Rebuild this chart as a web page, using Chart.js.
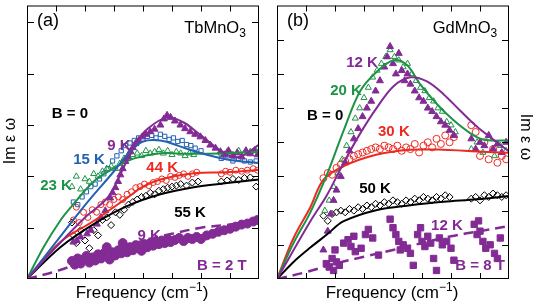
<!DOCTYPE html>
<html>
<head>
<meta charset="utf-8">
<script src="https://cdn.jsdelivr.net/npm/chart.js@4.4.0/dist/chart.umd.min.js"></script>
<style>
  body { margin: 0; background: #fff; }
  #wrap { position: relative; width: 537px; height: 308px; }
  canvas { position: absolute; top: 0; }
</style>
</head>
<body>
<div id="wrap">
  <canvas id="chartA" width="268" height="308" style="left:0"></canvas>
  <canvas id="chartB" width="269" height="308" style="left:268px"></canvas>
</div>
<script>
// tick positions (no tick labels on this figure)
const xTicks = [1, 2, 3, 4, 5, 6, 7];
const aYTicks = [1, 2, 3, 4, 5];
const bYTicks = [1, 2, 3, 4, 5, 6, 7];

// ---- panel (a) TbMnO3 ----
const aFit9K = [[0,0],[1,0.62],[2,1.2],[2.8,1.6],[3.4,2.25],[3.8,2.68],[4.14,2.92],[4.83,3.15],[5.4,3.05],[5.97,2.81],[6.9,2.42],[7.34,2.38],[8,2.62]];
const aFit15K = [[0,0],[1,0.72],[2,1.44],[3,2.1],[3.5,2.45],[4,2.68],[4.6,2.7],[5.2,2.6],[5.9,2.47],[6.9,2.33],[8,2.26]];
const aFit23K = [[0,0],[0.57,0.62],[1.15,1.14],[1.5,1.39],[2.3,1.9],[3.0,2.16],[3.7,2.35],[4.6,2.45],[5.5,2.44],[6.9,2.45],[8,2.48]];
const aFit44K = [[0,0],[1.15,0.72],[2.3,1.13],[3.45,1.58],[4.0,1.8],[4.6,1.94],[5.75,2.06],[6.9,2.08],[8,2.13]];
const aFit55K = [[0,0],[1.15,0.62],[2.3,1.07],[3.45,1.42],[4.6,1.65],[5.75,1.79],[6.9,1.87],[8,1.94]];
const aFit9K2T = [[0,0],[1,0.15],[2,0.35],[3,0.55],[4,0.75],[5,0.88],[6,1.0],[7,1.06],[8,1.15]];

const a9K = [[1.6,0.72],[1.72,0.75],[1.85,0.82],[2.07,0.88],[2.2,0.95],[2.41,1.07],[2.55,1.2],[2.7,1.33],[2.87,1.58],[2.95,1.68],[3.05,1.78],[3.14,1.9],[3.22,2.03],[3.3,2.15],[3.39,2.29],[3.48,2.38],[3.56,2.48],[3.65,2.56],[3.74,2.64],[3.85,2.7],[3.97,2.77],[4.1,2.82],[4.25,2.87],[4.4,2.92],[4.6,3.0],[4.72,3.12],[4.83,3.19],[4.95,3.15],[5.1,3.08],[5.29,3.0],[5.45,2.93],[5.63,2.87],[5.8,2.82],[5.98,2.77],[6.15,2.7],[6.32,2.61],[6.5,2.55],[6.67,2.48],[6.8,2.42],[6.95,2.5],[7.1,2.4],[7.25,2.46],[7.4,2.38],[7.55,2.5],[7.7,2.44],[7.85,2.5],[7.95,2.42]];
const a15K = [[1.6,1.5],[1.75,1.45],[1.9,1.6],[2.05,1.7],[2.2,1.8],[2.35,1.85],[2.5,1.95],[2.65,2.05],[2.8,2.15],[2.95,2.3],[3.1,2.4],[3.25,2.5],[3.4,2.6],[3.55,2.65],[3.7,2.7],[3.85,2.75],[4.0,2.72],[4.15,2.78],[4.3,2.8],[4.45,2.75],[4.6,2.82],[4.75,2.78],[4.9,2.72],[5.05,2.75],[5.2,2.68],[5.35,2.7],[5.5,2.62],[5.65,2.6],[5.8,2.55],[6.0,2.5],[6.7,2.35],[6.9,2.4],[7.1,2.3],[7.3,2.35],[7.5,2.3],[7.7,2.28],[7.9,2.3]];
const a23K = [[1.55,1.8],[1.7,2.0],[1.85,1.75],[2.0,1.95],[2.15,1.9],[2.3,2.05],[2.45,2.0],[2.6,2.1],[2.75,2.15],[2.9,2.2],[3.05,2.15],[3.2,2.25],[3.35,2.35],[3.5,2.38],[3.65,2.42],[3.8,2.45],[3.95,2.4],[4.1,2.5],[4.25,2.45],[4.4,2.48],[4.55,2.52],[4.7,2.45],[4.85,2.5],[5.0,2.42],[5.15,2.48],[5.3,2.45],[5.45,2.4],[5.6,2.45],[5.75,2.42],[6.7,2.45],[6.9,2.48],[7.1,2.42],[7.3,2.5],[7.5,2.45],[7.7,2.48],[7.9,2.5]];
const a44K = [[1.6,1.15],[1.7,1.4],[1.8,1.1],[1.95,1.3],[2.1,1.2],[2.25,1.35],[2.4,1.3],[2.55,1.45],[2.7,1.5],[2.85,1.45],[3.0,1.55],[3.15,1.6],[3.3,1.55],[3.45,1.65],[3.6,1.7],[3.75,1.78],[3.9,1.8],[4.05,1.85],[4.2,1.82],[4.35,1.88],[4.5,1.9],[4.65,1.95],[4.8,1.92],[4.95,2.0],[5.1,1.98],[5.25,2.02],[5.4,2.05],[5.55,2.0],[5.7,2.05],[5.85,2.08],[6.7,2.05],[6.85,2.1],[7.0,2.08],[7.2,2.12],[7.4,2.1],[7.6,2.12],[7.8,2.15],[7.95,2.12]];
const a55K = [[1.55,1.1],[1.6,0.85],[1.7,0.7],[1.85,0.95],[2.0,0.75],[2.15,0.6],[2.3,0.95],[2.45,0.85],[2.6,1.15],[2.75,1.2],[2.9,1.05],[3.05,1.3],[3.2,1.25],[3.35,1.35],[3.5,1.45],[3.65,1.5],[3.8,1.55],[3.95,1.6],[4.1,1.62],[4.25,1.68],[4.4,1.65],[4.55,1.72],[4.7,1.75],[4.85,1.78],[5.0,1.8],[5.15,1.82],[5.3,1.85],[5.5,1.82],[5.7,1.88],[5.9,1.9],[6.7,1.9],[6.9,1.92],[7.1,1.95],[7.3,1.93],[7.5,1.97],[7.7,1.98],[7.9,1.8]];
const a9K2T = [[1.55,0.35],[1.65,0.28],[1.75,0.4],[1.85,0.3],[1.95,0.38],[2.05,0.45],[2.15,0.32],[2.25,0.42],[2.35,0.36],[2.45,0.48],[2.55,0.4],[2.65,0.5],[2.75,0.62],[2.85,0.38],[2.95,0.52],[3.05,0.46],[3.15,0.56],[3.25,0.5],[3.3,0.7],[3.35,0.6],[3.45,0.52],[3.55,0.62],[3.65,0.56],[3.75,0.66],[3.85,0.6],[3.95,0.55],[4.05,0.68],[4.15,0.62],[4.25,0.7],[4.35,0.65],[4.45,0.72],[4.55,0.68],[4.65,0.75],[4.75,0.7],[4.85,0.78],[4.95,0.72],[5.1,0.76],[5.25,0.8],[5.4,0.74],[5.55,0.8],[5.7,0.78],[5.85,0.82],[6.0,0.78],[6.2,0.85],[6.4,0.88],[6.6,0.92],[6.8,0.95],[7.0,0.98],[7.2,1.02],[7.4,1.06],[7.6,1.08],[7.8,1.12],[7.95,1.15]];

// ---- panel (b) GdMnO3 ----
const bFit12K = [[0,0],[1.15,1.69],[1.72,2.45],[2.3,3.4],[2.87,4.26],[3.45,5.02],[4.02,5.64],[4.6,5.9],[5.17,5.78],[5.75,5.4],[6.32,4.92],[6.9,4.45],[7.47,4.07],[8,3.73]];
const bFit20K = [[0,0],[0.57,1.05],[1.15,1.95],[1.72,3.05],[2.3,4.35],[2.87,5.5],[3.45,6.07],[4.02,6.4],[4.48,6.26],[4.94,5.69],[5.52,5.11],[6.09,4.64],[6.67,4.26],[7.13,4.07],[8,4.05]];
const bFit30K = [[0,0],[0.57,1.2],[1.15,2.1],[1.6,2.9],[2.3,3.3],[3.45,3.64],[4.6,3.78],[5.75,3.78],[6.9,3.73],[8,3.69]];
const bFit50K = [[0,0],[0.57,0.5],[1.15,0.92],[1.72,1.3],[2.3,1.69],[3.45,2.02],[4.6,2.16],[5.75,2.26],[6.9,2.33],[8,2.43]];
const bFit12K8T = [[0,0],[1,0.2],[2,0.45],[3,0.65],[4,0.85],[5,1.05],[6,1.25],[7,1.4],[8,1.55]];

const b12K = [[1.6,0.85],[1.75,1.4],[1.85,1.9],[1.95,2.3],[2.05,2.6],[2.2,3.0],[2.35,3.4],[2.5,3.75],[2.65,4.1],[2.8,4.4],[2.95,4.75],[3.1,5.0],[3.25,5.2],[3.4,5.5],[3.55,5.8],[3.7,6.2],[3.8,6.5],[3.9,6.8],[4.0,6.3],[4.1,6.0],[4.2,6.6],[4.3,6.1],[4.4,5.8],[4.5,6.0],[4.6,5.7],[4.75,5.5],[4.9,5.3],[5.05,5.2],[5.2,5.0],[5.35,4.9],[5.5,4.75],[5.65,4.6],[5.8,4.5],[5.95,4.35],[6.1,4.2],[6.7,4.1],[6.85,3.8],[7.0,4.0],[7.15,3.9],[7.3,4.2],[7.45,3.8],[7.6,3.95],[7.75,3.7],[7.9,4.0]];
const b20K = [[1.65,2.0],[1.8,2.3],[1.95,2.7],[2.1,3.1],[2.25,3.5],[2.4,3.9],[2.55,4.3],[2.7,4.7],[2.85,5.0],[3.0,5.3],[3.15,5.6],[3.3,5.9],[3.45,6.1],[3.6,6.3],[3.75,6.5],[3.9,6.7],[4.05,6.5],[4.2,6.4],[4.35,6.2],[4.5,6.3],[4.65,6.0],[4.8,5.8],[4.95,5.6],[5.1,5.5],[5.25,5.3],[5.4,5.2],[5.55,5.0],[5.7,4.9],[5.85,4.6],[6.0,4.5],[6.15,4.3],[6.7,3.8],[6.9,4.0],[7.1,3.7],[7.3,4.1],[7.5,3.6],[7.7,3.9],[7.9,3.75]];
const b30K = [[1.6,2.95],[1.75,3.1],[1.9,3.05],[2.05,3.25],[2.2,3.35],[2.35,3.45],[2.5,3.5],[2.65,3.6],[2.8,3.65],[2.95,3.7],[3.1,3.75],[3.25,3.8],[3.4,3.85],[3.55,3.8],[3.7,3.9],[3.85,3.85],[4.0,3.8],[4.15,3.9],[4.3,3.75],[4.45,3.85],[4.6,3.8],[4.75,3.95],[4.9,3.7],[5.05,3.9],[5.2,4.0],[5.35,3.85],[5.5,4.1],[5.65,3.95],[5.8,4.2],[5.95,4.0],[6.1,4.15],[6.7,4.5],[6.85,4.3],[7.0,3.6],[7.15,4.0],[7.3,3.5],[7.45,3.8],[7.6,3.4],[7.75,3.6],[7.9,3.5]];
const b50K = [[1.6,1.85],[1.75,1.7],[1.9,1.9],[2.05,1.95],[2.2,2.0],[2.35,1.95],[2.5,2.05],[2.65,2.0],[2.8,2.1],[2.95,2.05],[3.1,2.15],[3.25,2.1],[3.4,2.2],[3.55,2.15],[3.7,2.25],[3.85,2.2],[4.0,2.3],[4.15,2.25],[4.3,2.2],[4.45,2.3],[4.6,2.25],[4.75,2.35],[4.9,2.3],[5.05,2.4],[5.2,2.35],[5.35,2.3],[5.5,2.4],[5.65,2.35],[5.8,2.45],[5.95,2.4],[6.7,2.35],[6.85,2.4],[7.0,2.3],[7.15,2.45],[7.3,2.4],[7.45,2.5],[7.6,2.45],[7.75,2.4],[7.9,2.45]];
const b12K8T = [[1.7,0.45],[1.8,0.35],[1.9,0.6],[1.95,0.25],[2.05,0.5],[2.0,0.85],[2.15,0.4],[2.3,1.05],[2.45,1.15],[2.55,0.95],[2.7,0.8],[2.65,1.25],[2.9,0.9],[3.05,1.3],[3.15,1.45],[3.3,1.2],[3.5,0.7],[3.9,1.75],[4.0,1.5],[4.1,1.3],[4.2,1.1],[4.25,0.85],[4.35,1.0],[4.5,0.9],[4.6,0.75],[4.7,0.4],[4.85,1.3],[4.95,1.5],[5.0,1.1],[5.1,0.95],[5.2,1.25],[5.3,1.05],[5.4,0.6],[5.5,0.25],[5.6,1.2],[5.7,1.0],[5.85,1.1],[6.0,0.9],[6.1,0.55],[6.8,1.6],[6.9,1.3],[7.0,1.4],[7.1,1.1],[7.2,0.9],[7.35,1.0],[7.5,0.75],[7.6,0.6],[7.7,1.2],[6.95,1.7]];

const PURPLE = '#832b94';
const GREEN = '#1d9445';
const BLUE = '#2362b2';
const RED = '#ec2a22';
const BLACK = '#000000';
const FONT = '"Liberation Sans", Arial, Helvetica, sans-serif';

// in-plot annotations, placed in data units
const aLabels = [
  {text: 'B = 0', x: 1.48, y: 3.21, color: BLACK},
  {text: '9 K', x: 3.17, y: 2.6, color: PURPLE},
  {text: '15 K', x: 2.14, y: 2.33, color: BLUE},
  {text: '23 K', x: 1.0, y: 1.81, color: GREEN},
  {text: '44 K', x: 4.66, y: 2.17, color: RED},
  {text: '55 K', x: 5.62, y: 1.29, color: BLACK},
  {text: '9 K', x: 4.21, y: 0.85, color: PURPLE},
  {text: 'B = 2 T', x: 6.72, y: 0.25, color: PURPLE}
];
const bLabels = [
  {text: '12 K', x: 2.93, y: 6.31, color: PURPLE},
  {text: '20 K', x: 2.38, y: 5.49, color: GREEN},
  {text: 'B = 0', x: 1.66, y: 4.77, color: BLACK},
  {text: '30 K', x: 4.03, y: 4.29, color: RED},
  {text: '50 K', x: 3.38, y: 2.63, color: BLACK},
  {text: '12 K', x: 5.86, y: 1.54, color: PURPLE},
  {text: 'B = 8 T', x: 7.0, y: 0.37, color: PURPLE}
];

function pts(arr) { return arr.map(p => ({x: p[0], y: p[1]})); }

function fit(arr, color, dash) {
  return {
    type: 'line', data: pts(arr), borderColor: color, borderWidth: dash ? 2.5 : 2,
    borderDash: dash || [], pointRadius: 0, tension: 0.35, fill: false, order: 0
  };
}

function marks(arr, color, style, filled, r, order) {
  return {
    data: pts(arr), showLine: false, pointStyle: style, pointRadius: r,
    borderColor: color, backgroundColor: filled ? color : 'rgba(255,255,255,0)',
    borderWidth: 1, order: order
  };
}

// draw text made of runs (for sub/superscripts), centred on cx
function runs(ctx, parts, cx, cy) {
  let w = 0;
  parts.forEach(p => { ctx.font = p.f; w += ctx.measureText(p.t).width; });
  let x = cx - w / 2;
  ctx.textAlign = 'left';
  parts.forEach(p => {
    ctx.font = p.f;
    ctx.fillText(p.t, x, cy + (p.dy || 0));
    x += ctx.measureText(p.t).width;
  });
}

function panelPlugin(cfg) {
  return {
    id: 'panel',
    afterDatasetsDraw(chart) {
      const {ctx, chartArea: a} = chart;
      const xs = chart.scales.x, ys = chart.scales.y;
      ctx.save();
      ctx.strokeStyle = '#000';
      ctx.lineWidth = 1;
      ctx.strokeRect(a.left + 0.5, a.top + 0.5, a.right - a.left - 1, a.bottom - a.top - 1);
      ctx.beginPath();
      xTicks.forEach(v => {
        const px = Math.round(xs.getPixelForValue(v)) + 0.5;
        ctx.moveTo(px, a.bottom); ctx.lineTo(px, a.bottom - 6);
        ctx.moveTo(px, a.top); ctx.lineTo(px, a.top + 6);
      });
      cfg.yTicks.forEach(v => {
        const py = Math.round(ys.getPixelForValue(v)) + 0.5;
        ctx.moveTo(a.left, py); ctx.lineTo(a.left + 7, py);
        ctx.moveTo(a.right, py); ctx.lineTo(a.right - 7, py);
      });
      ctx.stroke();

      ctx.textBaseline = 'middle';
      ctx.textAlign = 'center';
      cfg.labels.forEach(l => {
        ctx.font = 'bold 15px ' + FONT;
        ctx.fillStyle = l.color;
        ctx.fillText(l.text, xs.getPixelForValue(l.x), ys.getPixelForValue(l.y));
      });

      ctx.fillStyle = '#000';
      ctx.textBaseline = 'alphabetic';
      // panel tag and compound
      ctx.textAlign = 'center';
      ctx.font = '18px ' + FONT;
      ctx.fillText(cfg.tag, a.left + 21, 26);
      runs(ctx, [
        {t: cfg.compound, f: '16.5px ' + FONT},
        {t: '3', f: '12px ' + FONT, dy: 4}
      ], a.right - 44, 33);

      // x title
      const cx = (a.left + a.right) / 2 - 1;
      runs(ctx, [
        {t: 'Frequency (cm', f: '17px ' + FONT},
        {t: '\u22121', f: '12px ' + FONT, dy: -7},
        {t: ')', f: '17px ' + FONT}
      ], cx, 298);

      // y title
      ctx.font = '16px ' + FONT;
      ctx.textAlign = 'center';
      ctx.textBaseline = 'middle';
      ctx.translate(cfg.yTitleX, cfg.yTitleY);
      ctx.rotate(cfg.yTitleRot);
      ctx.fillText('Im \u03b5 \u03c9', 0, 0);
      ctx.restore();
    }
  };
}

function makePanel(id, datasets, yMax, cfg, padding) {
  return new Chart(document.getElementById(id), {
    type: 'scatter',
    data: {datasets: datasets},
    options: {
      responsive: false,
      animation: false,
      devicePixelRatio: 1,
      layout: {padding: padding},
      plugins: {legend: {display: false}, tooltip: {enabled: false}},
      scales: {
        x: {type: 'linear', min: 0, max: 8, display: false},
        y: {type: 'linear', min: 0, max: yMax, display: false}
      }
    },
    plugins: [panelPlugin(cfg)]
  });
}

makePanel('chartA', [
  fit(aFit9K, PURPLE), fit(aFit15K, BLUE), fit(aFit23K, GREEN),
  fit(aFit44K, RED), fit(aFit55K, BLACK), fit(aFit9K2T, PURPLE, [10, 6]),
  marks(a9K, PURPLE, 'triangle', true, 4, 1),
  marks(a15K, BLUE, 'rect', false, 3, 3),
  marks(a23K, GREEN, 'triangle', false, 3.5, 2),
  marks(a44K, RED, 'circle', false, 3, 4),
  marks(a55K, BLACK, 'rectRot', false, 3.5, 5),
  marks(a9K2T, PURPLE, 'circle', true, 4.5, 6)
], 5.33, {
  yTicks: aYTicks, labels: aLabels, tag: '(a)', compound: 'TbMnO',
  yTitleX: 11, yTitleY: 141, yTitleRot: -Math.PI / 2
}, {left: 27, top: 1, right: 9, bottom: 29});

makePanel('chartB', [
  fit(bFit12K, PURPLE), fit(bFit20K, GREEN), fit(bFit30K, RED),
  fit(bFit50K, BLACK), fit(bFit12K8T, PURPLE, [10, 6]),
  marks(b12K, PURPLE, 'triangle', true, 4, 1),
  marks(b20K, GREEN, 'triangle', false, 3.5, 2),
  marks(b30K, RED, 'circle', false, 3.5, 3),
  marks(b50K, BLACK, 'rectRot', false, 3.5, 4),
  marks(b12K8T, PURPLE, 'rect', true, 4.5, 5)
], 8, {
  yTicks: bYTicks, labels: bLabels, tag: '(b)', compound: 'GdMnO',
  yTitleX: 257, yTitleY: 137, yTitleRot: Math.PI / 2
}, {left: 9, top: 1, right: 28, bottom: 29});
</script>
</body>
</html>
